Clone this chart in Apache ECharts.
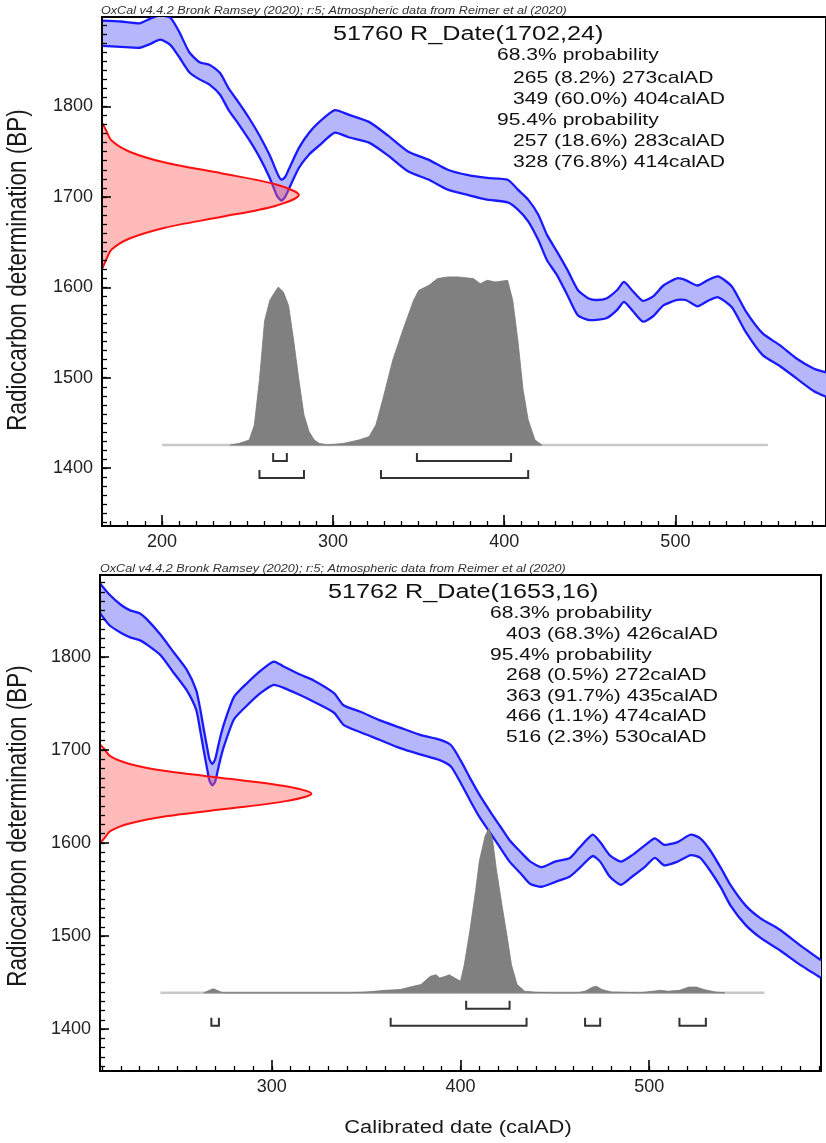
<!DOCTYPE html>
<html><head><meta charset="utf-8">
<script src="https://cdn.jsdelivr.net/npm/echarts@6/dist/echarts.min.js"></script>
<style>html,body{margin:0;padding:0;background:#fff}#c{width:826px;height:1143px}</style>
</head><body><div id="c"></div><script>
// ---------- DATA ----------
// Top panel: 51760 R_Date(1702,24)
const topCurveYears = [165,176,187,193,199,205,210,216,222,228,234,239,245,251,257,263,267,268.5,270,272,274,280,286,292,301,309,321,332,344,356,367,379,390,402,408,414,420,425,431,437,443,449,454,460,466,470,475,481,487,493,501,506,513,519,525,533,541,551,561,571,581,588];
const topCurveUpper = [1895,1894,1892,1897,1901,1898,1883,1860,1849,1846,1837,1820,1804,1787,1768,1746,1728,1722,1719,1722,1730,1754,1771,1783,1796,1791,1783,1768,1750,1741,1730,1724,1721,1719,1708,1697,1680,1658,1639,1619,1597,1588,1586,1588,1597,1606,1596,1585,1590,1602,1610,1608,1602,1608,1612,1601,1574,1549,1536,1521,1510,1506];
const topCurveLower = [1867,1866,1865,1869,1874,1868,1855,1838,1830,1824,1813,1796,1780,1763,1744,1721,1702,1698,1696,1700,1708,1732,1747,1757,1771,1766,1760,1746,1728,1719,1708,1702,1697,1694,1686,1673,1652,1630,1613,1591,1569,1564,1564,1566,1575,1584,1574,1562,1568,1580,1586,1586,1579,1585,1589,1578,1551,1525,1513,1499,1485,1479];
const topRedBP   = [1620,1630,1642,1654,1666,1678,1690,1702,1714,1726,1738,1750,1762,1774,1782];
const topRedDens = [0,0.02,0.05,0.14,0.32,0.61,0.88,1,0.88,0.61,0.32,0.14,0.05,0.02,0];
const topPostYears = [240,245,251,254,257,260,263,266,268,271,274,277,280,283,286,289,292,297,306,315,321,325,329,335,341,347,350,356,361,367,373,382,386,390,395,402,405,408,411,414,418,422];
const topPostDens  = [0,0.01,0.03,0.12,0.39,0.74,0.86,0.91,0.94,0.91,0.83,0.62,0.39,0.18,0.08,0.03,0.01,0,0.01,0.03,0.05,0.12,0.27,0.51,0.69,0.86,0.92,0.95,0.99,1.0,1.0,0.99,0.96,0.98,0.97,0.98,0.86,0.62,0.33,0.15,0.03,0];
const topBaseRange = [200, 554];
const topRanges68 = [[265,273],[349,404]];
const topRanges95 = [[257,283],[328,414]];
const topXTicks = [200,300,400,500];

// Bottom panel: 51762 R_Date(1653,16)
const botCurveYears = [209,214,220,225,230,234,241,248,255,260,262,264,266,267,268.5,270,271.5,273,275,280,287,294,301,306,315,322,333,338,347,357,368,379,389,395,400,405,410,416,421,426,432,437,443,450,458,463,470,474,479,485,491,498,503,508,515,522,527,532,538,543,551,559,569,580,591];
const botCurveUpper = [1879,1867,1856,1850,1847,1840,1824,1805,1786,1764,1745,1722,1700,1690,1685,1690,1703,1716,1730,1757,1772,1785,1795,1790,1781,1775,1761,1748,1741,1732,1724,1716,1711,1705,1689,1670,1652,1633,1618,1603,1590,1580,1574,1580,1584,1595,1609,1601,1587,1580,1587,1598,1605,1598,1601,1609,1605,1593,1573,1555,1533,1519,1507,1490,1474];
const botCurveLower = [1847,1834,1826,1821,1818,1813,1802,1783,1764,1743,1722,1699,1677,1667,1662,1666,1679,1692,1706,1733,1748,1761,1770,1767,1759,1752,1740,1727,1719,1711,1702,1695,1689,1682,1665,1646,1628,1610,1595,1580,1567,1556,1553,1558,1564,1573,1586,1580,1564,1555,1564,1575,1584,1576,1580,1587,1584,1571,1552,1533,1512,1498,1485,1469,1455];
const botRedBP   = [1600,1605,1613,1621,1629,1637,1645,1653,1661,1669,1677,1685,1693,1701,1706];
const botRedDens = [0,0.02,0.05,0.14,0.32,0.61,0.88,1,0.88,0.61,0.32,0.14,0.05,0.02,0];
const botPostYears = [264,267,269,271,274,340,350,360,368,375,379,384,387,389,392,394,397,400,402,405,408,410,413,415,417,419,422,425,427,430,434,440,450,462,466,470,472,475,480,495,502,506,510,516,521,525,529,535,540];
const botPostDens  = [0,0.015,0.025,0.015,0,0,0.005,0.015,0.02,0.04,0.05,0.1,0.11,0.09,0.1,0.11,0.09,0.07,0.17,0.38,0.62,0.8,0.95,1.0,0.93,0.75,0.53,0.32,0.17,0.05,0.01,0.003,0,0,0.01,0.035,0.04,0.02,0.005,0,0.01,0.015,0.01,0.015,0.035,0.035,0.02,0.005,0];
const botBaseRange = [241, 561];
const botRanges68 = [[403,426]];
const botRanges95 = [[268,272],[363,435],[466,474],[516,530]];
const botXTicks = [300,400,500];

const yTicks = [1400,1500,1600,1700,1800];

const topTexts = ['68.3% probability','265 (8.2%) 273calAD','349 (60.0%) 404calAD','95.4% probability','257 (18.6%) 283calAD','328 (76.8%) 414calAD'];
const botTexts = ['68.3% probability','403 (68.3%) 426calAD','95.4% probability','268 (0.5%) 272calAD','363 (91.7%) 435calAD','466 (1.1%) 474calAD','516 (2.3%) 530calAD'];
const headerText = 'OxCal v4.4.2 Bronk Ramsey (2020); r:5; Atmospheric data from Reimer et al (2020)';

// ---------- LAYOUT ----------
const FONT = '"Liberation Sans", Arial, Helvetica, sans-serif';
const panels = [
  {grid:{left:102, top:17, width:728, height:509}, xMin:165, xMax:588, yMin:1336, yMax:1899,
   years:topCurveYears, upper:topCurveUpper, lower:topCurveLower,
   redBP:topRedBP, redDens:topRedDens, redAmp:115,
   postYears:topPostYears, postDens:topPostDens, postBase:1425.5, postH:186, baseRange:topBaseRange,
   r68:topRanges68, r95:topRanges95, xTicks:topXTicks,
   title:'51760 R_Date(1702,24)', titlePos:[333,34], header:[101,11], yLabelY:270,
   texts:topTexts, textX:[497,513], textY:[55,78,99,120,141,162], indent:[0,1,1,0,1,1]},
  {grid:{left:100, top:575, width:721, height:496}, xMin:209, xMax:591, yMin:1355, yMax:1888,
   years:botCurveYears, upper:botCurveUpper, lower:botCurveLower,
   redBP:botRedBP, redDens:botRedDens, redAmp:112,
   postYears:botPostYears, postDens:botPostDens, postBase:1439, postH:177, baseRange:botBaseRange,
   r68:botRanges68, r95:botRanges95, xTicks:botXTicks,
   title:'51762 R_Date(1653,16)', titlePos:[328,592], header:[100,569], yLabelY:826,
   texts:botTexts, textX:[490,506], textY:[613,634,655,675,696,716,737], indent:[0,1,0,1,1,1,1]}
];

function steps(a, b, s){ const r=[]; for(let v=Math.ceil(a/s)*s; v<=b; v+=s) r.push(v); return r; }
const plain = v => String(v);

const grids=[], xAxes=[], yAxes=[], series=[], graphics=[];
panels.forEach((p,i)=>{
  grids.push(Object.assign({show:true, borderColor:'#000', borderWidth:2, backgroundColor:'transparent'}, p.grid));
  const xMinor = steps(p.xMin, p.xMax, 10), yMinor = steps(p.yMin, p.yMax, 10);
  xAxes.push({gridIndex:i, type:'value', min:p.xMin, max:p.xMax, position:'bottom', z:10,
    splitLine:{show:false},
    axisLine:{show:true, onZero:false, lineStyle:{color:'#000', width:2}},
    axisTick:{show:true, inside:true, length:11, customValues:p.xTicks, lineStyle:{color:'#000', width:1.6}},
    axisLabel:{show:true, customValues:p.xTicks, formatter:plain, margin:7, fontSize:18, color:'#222', fontFamily:FONT}});
  xAxes.push({gridIndex:i, type:'value', min:p.xMin, max:p.xMax, position:'bottom', z:10,
    splitLine:{show:false}, axisLine:{show:true, onZero:false, lineStyle:{color:'#000', width:2}},
    axisTick:{show:true, inside:true, length:5, customValues:xMinor, lineStyle:{color:'#000', width:1.3}},
    axisLabel:{show:false}});
  yAxes.push({gridIndex:i, type:'value', min:p.yMin, max:p.yMax, position:'left', z:10,
    splitLine:{show:false},
    axisLine:{show:true, onZero:false, lineStyle:{color:'#000', width:2}},
    axisTick:{show:true, inside:true, length:9, customValues:yTicks, lineStyle:{color:'#000', width:1.6}},
    axisLabel:{show:true, customValues:yTicks, formatter:plain, margin:9, fontSize:18, color:'#222', fontFamily:FONT}});
  yAxes.push({gridIndex:i, type:'value', min:p.yMin, max:p.yMax, position:'left', z:10,
    splitLine:{show:false}, axisLine:{show:true, onZero:false, lineStyle:{color:'#000', width:2}},
    axisTick:{show:true, inside:true, length:5, customValues:yMinor, lineStyle:{color:'#000', width:1.3}},
    axisLabel:{show:false}});
  const xi=i*2, yi=i*2;
  const cust=(z, draw)=>({type:'custom', xAxisIndex:xi, yAxisIndex:yi, clip:true, silent:true, z:z,
    data:[[p.xMin,p.yMin]], renderItem:(params, api)=>draw(api)});

  // calibration band fill + edges
  series.push(cust(2, api=>{
    const up = p.years.map((y,k)=>api.coord([y,p.upper[k]]));
    const lo = p.years.map((y,k)=>api.coord([y,p.lower[k]]));
    return {type:'group', children:[
      {type:'polygon', shape:{points:up.concat(lo.slice().reverse())}, style:{fill:'#b6b6fb', stroke:null}},
      {type:'polyline', shape:{points:up, smooth:0.2}, style:{fill:null, stroke:'#1a1aff', lineWidth:2.3}},
      {type:'polyline', shape:{points:lo, smooth:0.2}, style:{fill:null, stroke:'#1a1aff', lineWidth:2.3}}
    ]};
  }));
  // radiocarbon date (red)
  series.push(cust(3, api=>{
    const pts = p.redBP.map((b,k)=>api.coord([p.xMin + p.redDens[k]*p.redAmp, b]));
    return {type:'group', children:[
      {type:'polygon', shape:{points:pts, smooth:0.3}, style:{fill:'rgba(255,90,90,0.42)', stroke:null}},
      {type:'polyline', shape:{points:pts, smooth:0.3}, style:{fill:null, stroke:'#ff1010', lineWidth:2}}
    ]};
  }));
  // baseline of posterior
  series.push(cust(3, api=>{
    const a = api.coord([p.baseRange[0], p.postBase]), b = api.coord([p.baseRange[1], p.postBase]);
    return {type:'line', shape:{x1:a[0], y1:a[1], x2:b[0], y2:b[1]}, style:{stroke:'#c8c8c8', lineWidth:2.5}};
  }));
  // calibrated distribution (grey)
  series.push(cust(4, api=>{
    const pts = p.postYears.map((y,k)=>api.coord([y, p.postBase + p.postDens[k]*p.postH]));
    return {type:'polygon', shape:{points:pts}, style:{fill:'#808080', stroke:'#7a7a7a', lineWidth:0.8}};
  }));
  // range brackets
  series.push(cust(4, api=>{
    const children=[];
    const base = api.coord([p.xMin, p.postBase])[1];
    [[p.r68,16],[p.r95,33]].forEach(([rs,off])=>{
      rs.forEach(r=>{
        const x1 = api.coord([r[0], p.postBase])[0], x2 = api.coord([r[1], p.postBase])[0];
        const yb = base+off, yt = yb-8;
        children.push({type:'polyline', shape:{points:[[x1,yt],[x1,yb],[x2,yb],[x2,yt]]},
          style:{fill:null, stroke:'#333', lineWidth:2}});
      });
    });
    return {type:'group', children};
  }));

  // texts
  graphics.push({type:'text', x:p.header[0], y:p.header[1], scaleX:1.26, silent:true,
    style:{text:headerText, fontSize:10, fontStyle:'italic', fontFamily:FONT, fill:'#333', textAlign:'left', textVerticalAlign:'middle', align:'left', verticalAlign:'middle'}});
  graphics.push({type:'text', x:p.titlePos[0], y:p.titlePos[1], scaleX:1.26, silent:true,
    style:{text:p.title, fontSize:20, fontFamily:FONT, fill:'#111', textAlign:'left', textVerticalAlign:'middle', align:'left', verticalAlign:'middle'}});
  p.texts.forEach((t,k)=>{
    graphics.push({type:'text', x:p.textX[p.indent[k]], y:p.textY[k], scaleX:1.24, silent:true,
      style:{text:t, fontSize:17, fontFamily:FONT, fill:'#111', textAlign:'left', textVerticalAlign:'middle', align:'left', verticalAlign:'middle'}});
  });
  graphics.push({type:'text', x:19, y:p.yLabelY, rotation:Math.PI/2, scaleY:1.2, silent:true,
    style:{text:'Radiocarbon determination (BP)', fontSize:22.5, fontFamily:FONT, fill:'#1a1a1a', textAlign:'center', textVerticalAlign:'middle', align:'center', verticalAlign:'middle'}});
});
graphics.push({type:'text', x:458, y:1128, scaleX:1.25, silent:true,
  style:{text:'Calibrated date (calAD)', fontSize:17.5, fontFamily:FONT, fill:'#1a1a1a', textAlign:'center', textVerticalAlign:'middle', align:'center', verticalAlign:'middle'}});

const chart = echarts.init(document.getElementById('c'), null, {renderer:'canvas'});
chart.setOption({animation:false, backgroundColor:'#fff', grid:grids, xAxis:xAxes, yAxis:yAxes, series, graphic:{elements:graphics}});
</script></body></html>
